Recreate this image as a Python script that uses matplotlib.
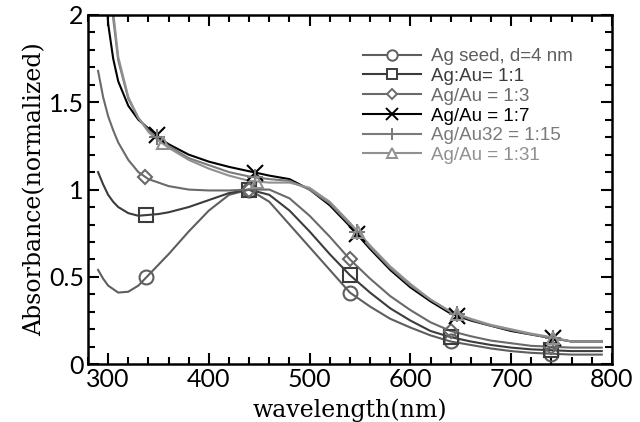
import numpy as np
import matplotlib.pyplot as plt
from matplotlib.ticker import MultipleLocator, FormatStrFormatter

# wavelength grid (nm)
wl = [290, 295, 300, 305, 310, 320, 330, 340, 350, 360, 380, 400, 420, 440,
      460, 480, 500, 520, 540, 560, 580, 600, 620, 640, 660, 680, 700,
      720, 740, 760, 790]

seed = [0.54, 0.49, 0.45, 0.43, 0.41, 0.415, 0.45, 0.51, 0.57, 0.63, 0.76,
        0.88, 0.97, 1.00, 0.93, 0.80, 0.67, 0.54, 0.41, 0.33, 0.26, 0.21,
        0.165, 0.13, 0.11, 0.09, 0.075, 0.065, 0.06, 0.055, 0.055]
r1_1 = [1.10, 1.03, 0.97, 0.93, 0.90, 0.865, 0.85, 0.855, 0.86, 0.87, 0.90,
        0.94, 0.98, 1.00, 0.97, 0.88, 0.76, 0.63, 0.51, 0.41, 0.32, 0.25,
        0.19, 0.155, 0.13, 0.11, 0.095, 0.085, 0.08, 0.075, 0.075]
r1_3 = [1.68, 1.53, 1.42, 1.34, 1.27, 1.17, 1.10, 1.06, 1.04, 1.02, 1.00,
        0.995, 0.995, 1.00, 1.00, 0.95, 0.85, 0.73, 0.60, 0.49, 0.39, 0.31,
        0.24, 0.19, 0.16, 0.135, 0.12, 0.105, 0.10, 0.095, 0.095]
r1_7 = [3.0, 2.4, 1.95, 1.75, 1.62, 1.48, 1.40, 1.35, 1.30, 1.26, 1.20,
        1.16, 1.13, 1.105, 1.08, 1.06, 1.00, 0.91, 0.79, 0.66, 0.54, 0.44,
        0.36, 0.29, 0.25, 0.22, 0.19, 0.17, 0.15, 0.13, 0.13]
r1_15 = [3.0, 2.8, 2.3, 1.98, 1.74, 1.52, 1.41, 1.34, 1.29, 1.25, 1.18,
         1.14, 1.10, 1.075, 1.06, 1.05, 1.00, 0.92, 0.80, 0.67, 0.55, 0.45,
         0.37, 0.30, 0.255, 0.22, 0.195, 0.17, 0.15, 0.13, 0.13]
r1_31 = [3.0, 2.9, 2.4, 2.02, 1.76, 1.53, 1.41, 1.33, 1.28, 1.24, 1.17,
         1.12, 1.08, 1.05, 1.04, 1.04, 1.01, 0.93, 0.81, 0.68, 0.56, 0.46,
         0.37, 0.30, 0.26, 0.225, 0.20, 0.175, 0.155, 0.13, 0.13]

# where each curve carries its markers
mk_seed = [338, 440, 540, 640, 740]
mk_1_1 = [338, 440, 540, 640, 740]
mk_1_3 = [337, 440, 540, 640, 740]
mk_1_7 = [348, 446, 547, 646, 742]
mk_1_15 = [348, 446, 547, 646, 742]
mk_1_31 = [354, 448, 548, 646, 742]

labels = ['Ag seed, d=4 nm', 'Ag:Au= 1:1', 'Ag/Au = 1:3', 'Ag/Au = 1:7',
          'Ag/Au32 = 1:15', 'Ag/Au = 1:31']

series = [
    (seed, mk_seed, '#5e5e5e', 'o', 10),
    (r1_1, mk_1_1, '#3c3c3c', 's', 10),
    (r1_3, mk_1_3, '#6a6a6a', 'D', 7),
    (r1_7, mk_1_7, '#000000', 'x', 11),
    (r1_15, mk_1_15, '#7a7a7a', '+', 11),
    (r1_31, mk_1_31, '#909090', '^', 9),
]

fig = plt.figure(figsize=(6.4, 4.22), dpi=100)
ax = fig.add_axes([0.1375, 0.137, 0.8185, 0.8275])

handles = []
for (y, mk, col, m, ms), lab in zip(series, labels):
    ax.plot(wl, y, color=col, lw=1.5, zorder=2)
    ax.plot(mk, np.interp(mk, wl, y), ls='none', marker=m, ms=ms,
            mfc='none', mec=col, mew=1.5, zorder=3)
    h, = ax.plot([], [], color=col, lw=1.5, marker=m, ms=ms * 0.75,
                 mfc='white', mec=col, mew=1.4, label=lab)
    handles.append(h)

ax.set_xlim(280, 800)
ax.set_ylim(0, 2)
ax.xaxis.set_major_locator(MultipleLocator(100))
ax.xaxis.set_minor_locator(MultipleLocator(20))
ax.yaxis.set_major_locator(MultipleLocator(0.5))
ax.yaxis.set_minor_locator(MultipleLocator(0.1))
ax.yaxis.set_major_formatter(FormatStrFormatter('%g'))
ax.tick_params(which='both', direction='in', top=True, right=True,
               width=1.5, labelsize=18, pad=3)
ax.tick_params(which='major', length=8)
ax.tick_params(which='minor', length=5)
for lbl in ax.get_xticklabels() + ax.get_yticklabels():
    lbl.set_family('Lato')
for s in ax.spines.values():
    s.set_linewidth(1.8)

ax.set_xlabel('wavelength(nm)', family='DejaVu Serif', fontsize=17,
              labelpad=5)
ax.set_ylabel('Absorbance(normalized)', family='DejaVu Serif',
              fontsize=17, labelpad=2)

leg = ax.legend(handles=handles, loc='upper left',
                bbox_to_anchor=(0.525, 0.905), frameon=False,
                prop={'family': 'Liberation Sans', 'size': 13.5},
                handlelength=3.1, handletextpad=0.55, labelspacing=0.14,
                borderpad=0, borderaxespad=0)
for t, (y, mk, col, m, ms) in zip(leg.get_texts(), series):
    t.set_color(col)

fig.savefig('out.png', dpi=100)
